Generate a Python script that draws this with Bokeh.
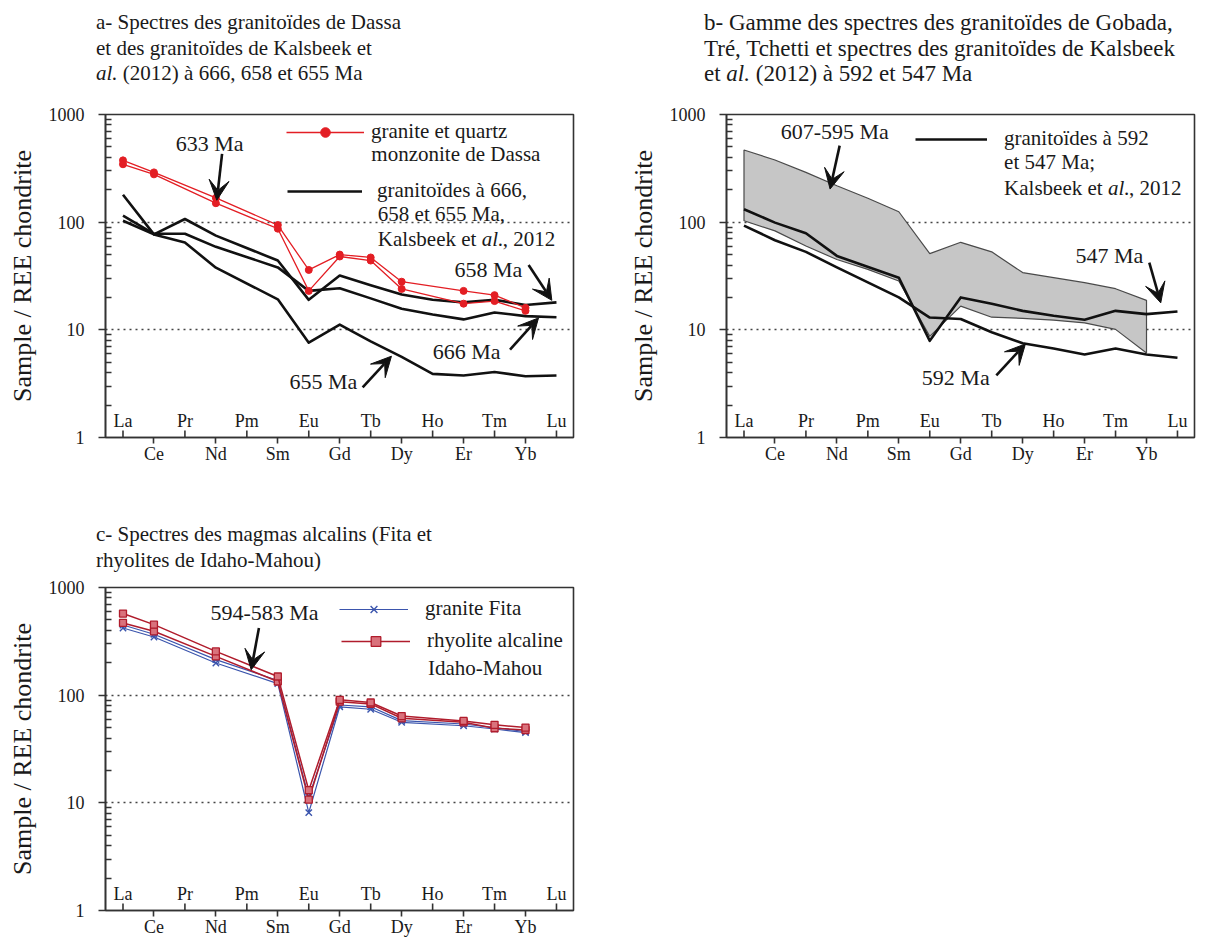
import math
from bokeh.plotting import figure
from bokeh.layouts import column, row
from bokeh.models import (ColumnDataSource, FixedTicker, Label, LabelSet, Arrow, VeeHead,
                          Legend, LegendItem, PrintfTickFormatter, Range1d, Div)
from bokeh.core.properties import value
from bokeh.embed import file_html
from bokeh.resources import INLINE

# ---------------- data ----------------
elements = ["La", "Ce", "Pr", "Nd", "Pm", "Sm", "Eu", "Gd", "Tb", "Dy", "Ho", "Er", "Tm", "Yb", "Lu"]

# panel a : Dassa granite & quartz monzonite (red)
dassa_1 = [375, 290, None, 168, None, 94, 36, 50, 47, 28, None, 23, 21, 16, None]
dassa_2 = [345, 278, None, 150, None, 87, 23, 48, 44, 24, None, 17.5, 18.5, 15, None]
# panel a : Kalsbeek et al. 2012 granitoids
kal_658 = [180, 77, 107, 75, None, 44, 19, 32, 26, 21.3, 19, 18, 19, 17, 18]
kal_666 = [115, 78, 78, 59, None, 38, 23, 24.3, 19.6, 15.7, 13.9, 12.5, 14.5, 13.4, 13.1]
kal_655 = [103, 77, 64.6, 37.8, None, 19.2, 7.6, 11.2, 7.8, 5.6, 3.9, 3.76, 4.06, 3.7, 3.76]

# panel b : range of Gobada, Tre, Tchetti granitoids (607-595 Ma)
band_upper = [468, 378, 290, 218, 167, 125, 51, 65, 53, 34, 30.5, 27.4, 24.1, 18.8, None]
band_lower = [103, 83, 60, 45, 36.4, 28.4, 8.7, 16.6, 13.1, 12.8, 12.3, 11.6, 10.1, 6.1, None]
kal_547 = [132, 99, 79, 48.6, None, 30.5, 7.9, 20, 17.5, 15, 13.5, 12.4, 15, 14, 14.8]
kal_592 = [93, 68, 53, 38, None, 20, 13, 12.6, 9.5, 7.5, 6.7, 5.9, 6.7, 5.9, 5.5]

# panel c : alkaline magmas
fita_1 = [421, 347, None, 199, None, 128, 8.1, 78, 74, 56, None, 52, 48.5, 44.9, None]
fita_2 = [448, 368, None, 214, None, 137, 11.3, 81, 78, 58, None, 54, 50, 46, None]
rhyo_1 = [573, 452, None, 255, None, 149, 13.1, 90.5, 85.5, 64, None, 57.6, 53, 50, None]
rhyo_2 = [469, 392, None, 229, None, 134, 10.7, 87, 83, 61, None, 56, 49.3, 47.5, None]

y_ticks = [1, 10, 100, 1000]
grid_values = [10, 100]

# ---------------- style ----------------
FONT = "Liberation Serif"
FRAME_W, FRAME_H = 468, 323
DECADE = FRAME_H / 3.0
AXC = "#333333"
TXT = "#1a1a1a"
RED = "#e31e24"
BLUE = "#3b55ad"
DRED = "#b01c2c"
NOTE_SIZE = "22px"
LEG_SIZE = "21px"


def xy(vals):
    xs = [i for i, v in enumerate(vals) if v is not None]
    ys = [v for v in vals if v is not None]
    return xs, ys


def make_title(html, width, height, left, top, size=21):
    style = ("position:relative; left:%dpx; top:%dpx; font-family:'Liberation Serif'; "
             "font-size:%dpx; line-height:25.5px; white-space:nowrap; color:%s;"
             % (left, top, size, TXT))
    return Div(text="<div style=\"%s\">%s</div>" % (style, html), width=width, height=height,
               margin=(0, 0, 0, 0))


def make_panel(b_left, b_right, b_top, b_bottom):
    p = figure(frame_width=FRAME_W, frame_height=FRAME_H, y_axis_type="log",
               x_range=Range1d(-0.565, 14.55), y_range=Range1d(1, 1000),
               min_border_left=b_left, min_border_right=b_right,
               min_border_top=b_top, min_border_bottom=b_bottom,
               output_backend="svg", toolbar_location=None)
    p.outline_line_color = AXC
    p.outline_line_width = 1.6
    p.background_fill_color = "white"
    p.border_fill_color = "white"

    odd = [i for i in range(len(elements)) if i % 2 == 1]
    even = [i for i in range(len(elements)) if i % 2 == 0]

    xa = p.xaxis[0]
    xa.ticker = FixedTicker(ticks=odd)
    xa.major_label_overrides = {i: elements[i] for i in odd}
    xa.major_tick_in = 0
    xa.major_tick_out = 6
    xa.major_tick_line_color = AXC
    xa.major_tick_line_width = 1.6
    xa.minor_tick_line_color = None
    xa.axis_line_color = AXC
    xa.axis_line_width = 1.6
    xa.major_label_text_font = FONT
    xa.major_label_text_font_size = "18px"
    xa.major_label_text_color = TXT
    xa.major_label_standoff = 0

    # inward ticks for the labels written inside the frame
    p.segment(x0=even, y0=[1] * len(even), x1=even, y1=[10 ** (7 / DECADE)] * len(even),
              line_color=AXC, line_width=1.6)
    src = ColumnDataSource(dict(x=even, name=[elements[i] for i in even]))
    p.add_layout(LabelSet(x="x", y=17, y_units="screen", text="name", source=src,
                          text_align="center", text_baseline="middle",
                          text_font=value(FONT), text_font_size=value("18px"),
                          text_color=TXT))

    ya = p.yaxis[0]
    ya.ticker = FixedTicker(ticks=y_ticks,
                            minor_ticks=[m * 10 ** e for e in range(3) for m in range(2, 10)])
    ya.formatter = PrintfTickFormatter(format="%d")
    ya.major_tick_in = 0
    ya.major_tick_out = 7
    ya.minor_tick_in = 6
    ya.minor_tick_out = 0
    ya.major_tick_line_color = AXC
    ya.minor_tick_line_color = AXC
    ya.major_tick_line_width = 1.6
    ya.minor_tick_line_width = 1.4
    ya.axis_line_color = AXC
    ya.axis_line_width = 1.6
    ya.major_label_text_font = FONT
    ya.major_label_text_font_size = "18px"
    ya.major_label_text_color = TXT
    ya.major_label_standoff = 14
    ya.axis_label = "Sample / REE chondrite"
    ya.axis_label_text_font = FONT
    ya.axis_label_text_font_size = "26px"
    ya.axis_label_text_font_style = "normal"
    ya.axis_label_text_color = TXT
    ya.axis_label_standoff = 9

    p.xgrid.grid_line_color = None
    p.ygrid.ticker = FixedTicker(ticks=grid_values)
    p.ygrid.grid_line_color = "#444444"
    p.ygrid.grid_line_dash = "2 4"
    p.ygrid.grid_line_width = 1.4
    return p


def text(p, x, y, s, size=NOTE_SIZE, align="left", style="normal", x_offset=0):
    p.add_layout(Label(x=x, y=y, text=s, x_offset=x_offset,
                       text_font=FONT, text_font_size=size, text_font_style=style,
                       text_align=align, text_baseline="middle", text_color=TXT))


def arrow(p, x0, y0, x1, y1):
    p.add_layout(Arrow(end=VeeHead(size=20, fill_color="#111111", line_color="#111111"),
                       x_start=x0, y_start=y0, x_end=x1, y_end=y1,
                       line_color="#111111", line_width=2.6))


def legend(p, renderers, label, vx, vy, gw, standoff):
    p.add_layout(Legend(items=[LegendItem(label=label, renderers=renderers)],
                        location=(vx, vy), padding=0, margin=0, spacing=0,
                        glyph_width=gw, glyph_height=24, label_height=24,
                        label_standoff=standoff, label_text_font=FONT,
                        label_text_font_size=LEG_SIZE, label_text_color=TXT,
                        background_fill_alpha=0, border_line_alpha=0), "center")


# ---------------- panel a ----------------
ta = make_title("a- Spectres des granitoïdes de Dassa<br>"
                "et des granitoïdes de Kalsbeek et<br>"
                "<i>al.</i> (2012) à 666, 658 et 655 Ma", 621, 100, 96, 10)

pa = make_panel(105, 48, 14, 63)
blk_a = None
for vals in (kal_658, kal_666, kal_655):
    xs, ys = xy(vals)
    r = pa.line(xs, ys, line_color="#111111", line_width=2.6, line_join="round")
    blk_a = blk_a or r
red_r = []
for vals in (dassa_1, dassa_2):
    xs, ys = xy(vals)
    rl = pa.line(xs, ys, line_color=RED, line_width=1.3)
    rs = pa.scatter(xs, ys, marker="circle", size=7, fill_color=RED, line_color=RED)
    if not red_r:
        red_r = [rl, rs]

legend(pa, red_r, "granite et quartz", 181, 293, 78, 7)
text(pa, 8.02, 430, "monzonite de Dassa", size=LEG_SIZE)
legend(pa, [blk_a], "granitoïdes à 666,", 182, 234, 75, 15)
text(pa, 8.23, 119, "658 et 655 Ma,", size=LEG_SIZE)
text(pa, 8.23, 69.5, "Kalsbeek et ", size=LEG_SIZE)
text(pa, 8.23, 69.5, "al.", size=LEG_SIZE, style="italic", x_offset=104)
text(pa, 8.23, 69.5, ", 2012", size=LEG_SIZE, x_offset=125)

text(pa, 2.8, 540, "633 Ma", align="center")
arrow(pa, 3.2, 430, 3.03, 160)
text(pa, 11.8, 36, "658 Ma", align="center")
arrow(pa, 13.1, 40, 13.85, 18.8)
text(pa, 11.1, 6.24, "666 Ma", align="center")
arrow(pa, 12.5, 6.56, 13.42, 12.9)
text(pa, 6.47, 3.32, "655 Ma", align="center")
arrow(pa, 7.74, 2.92, 8.67, 5.69)

# ---------------- panel b ----------------
tb = make_title("b- Gamme des spectres des granitoïdes de Gobada,<br>"
                "Tré, Tchetti et spectres des granitoïdes de Kalsbeek<br>"
                "et <i>al.</i> (2012) à 592 et 547 Ma", 593, 100, 83, 10, size=23)

pb = make_panel(105, 20, 14, 63)
ux, uy = xy(band_upper)
lx, ly = xy(band_lower)
pb.patch(ux + lx[::-1], uy + ly[::-1], fill_color="#c6c6c6", line_color="#4a4a4a",
         line_width=1.2)
blk_b = None
for vals in (kal_547, kal_592):
    xs, ys = xy(vals)
    r = pb.line(xs, ys, line_color="#111111", line_width=2.6, line_join="round")
    blk_b = blk_b or r

legend(pb, [blk_b], "granitoïdes à 592", 189, 286, 72, 17)
text(pb, 8.4, 360, "et 547 Ma;", size=LEG_SIZE)
text(pb, 8.4, 208, "Kalsbeek et ", size=LEG_SIZE)
text(pb, 8.4, 208, "al.", size=LEG_SIZE, style="italic", x_offset=104)
text(pb, 8.4, 208, ", 2012", size=LEG_SIZE, x_offset=125)

text(pb, 2.93, 700, "607-595 Ma", align="center")
arrow(pb, 3.09, 514, 2.78, 203)
text(pb, 11.8, 48.6, "547 Ma", align="center")
arrow(pb, 13.09, 42, 13.46, 17.8)
text(pb, 6.84, 3.57, "592 Ma", align="center")
arrow(pb, 8.15, 3.78, 9.09, 7.4)

# ---------------- panel c ----------------
tc = make_title("c- Spectres des magmas alcalins (Fita et<br>"
                "rhyolites de Idaho-Mahou)", 621, 75, 96, 22)

pc = make_panel(105, 48, 12, 20)
blue_r = []
for vals in (fita_2, fita_1):
    xs, ys = xy(vals)
    rl = pc.line(xs, ys, line_color=BLUE, line_width=1.2)
    rs = pc.scatter(xs, ys, marker="x", size=9, line_color=BLUE, line_width=1.4)
    if not blue_r:
        blue_r = [rl, rs]
red2_r = []
for vals in (rhyo_2, rhyo_1):
    xs, ys = xy(vals)
    rl = pc.line(xs, ys, line_color=DRED, line_width=1.5)
    rs = pc.scatter(xs, ys, marker="square", size=7, fill_color="#d9727c", line_color=DRED,
                    line_width=1.3)
    if not red2_r:
        red2_r = [rl, rs]

legend(pc, blue_r, "granite Fita", 234, 289, 69, 17)
legend(pc, red2_r, "rhyolite alcaline", 236, 257, 69, 17)
text(pc, 9.85, 178, "Idaho-Mahou", size=LEG_SIZE)
text(pc, 4.57, 589, "594-583 Ma", align="center")
arrow(pc, 4.39, 421, 4.14, 172)

layout = column(row(column(ta, pa), column(tb, pb)), column(tc, pc))
open("out.html", "w").write(file_html(layout, INLINE))
